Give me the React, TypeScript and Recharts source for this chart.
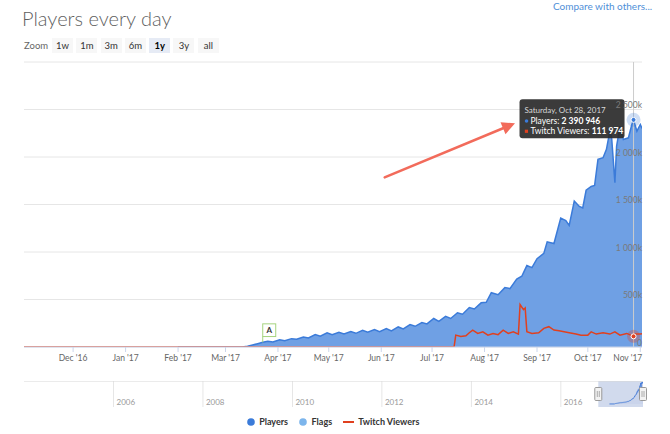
import React from 'react';
import {
  ComposedChart, Area, Line, XAxis, YAxis, CartesianGrid,
  ReferenceLine, ReferenceDot, ReferenceArea, Legend,
} from 'recharts';

const FONT = 'Lato, "Open Sans", "DejaVu Sans", sans-serif';

const chartTitle = 'Players every day';
const compareLink = 'Compare with others...';
const zoomLabel = 'Zoom';
const zoomButtons = ['1w', '1m', '3m', '6m', '1y', '3y', 'all'];
const selectedZoom = '1y';

const rangeStart = '2016-11-02';
const rangeEnd = '2017-11-02';
const navigatorStart = '2004-01-01';

const monthTicks = [
  '2016-12-01', '2017-01-01', '2017-02-01', '2017-03-01', '2017-04-01', '2017-05-01',
  '2017-06-01', '2017-07-01', '2017-08-01', '2017-09-01', '2017-10-01', '2017-11-01',
];
const monthLabels = [
  "Dec '16", "Jan '17", "Feb '17", "Mar '17", "Apr '17", "May '17",
  "Jun '17", "Jul '17", "Aug '17", "Sep '17", "Oct '17", "Nov '17",
];
const yTicks = [0, 500000, 1000000, 1500000, 2000000, 2500000, 3000000];
const yTickLabels = ['0', '500k', '1 000k', '1 500k', '2 000k', '2 500k', ''];
const navigatorYears = ['2006', '2008', '2010', '2012', '2014', '2016'];

const players: [string, number][] = [
  ['2017-02-01', 0], ['2017-03-11', 0], ['2017-03-14', 8000], ['2017-03-17', 21000],
  ['2017-03-20', 35000], ['2017-03-23', 49000], ['2017-03-26', 60000], ['2017-03-29', 53000],
  ['2017-04-02', 77000], ['2017-04-05', 67000], ['2017-04-09', 88000], ['2017-04-12', 81000],
  ['2017-04-16', 106000], ['2017-04-19', 95000], ['2017-04-23', 132000], ['2017-04-26', 113000],
  ['2017-04-30', 150000], ['2017-05-03', 130000], ['2017-05-07', 155000], ['2017-05-10', 137000],
  ['2017-05-14', 162000], ['2017-05-17', 144000], ['2017-05-21', 176000], ['2017-05-24', 155000],
  ['2017-05-28', 183000], ['2017-05-31', 162000], ['2017-06-04', 194000], ['2017-06-07', 169000],
  ['2017-06-11', 211000], ['2017-06-14', 190000], ['2017-06-18', 236000], ['2017-06-21', 218000],
  ['2017-06-25', 258000], ['2017-06-28', 243000], ['2017-07-02', 300000], ['2017-07-05', 270000],
  ['2017-07-09', 322000], ['2017-07-12', 300000], ['2017-07-16', 360000], ['2017-07-19', 345000],
  ['2017-07-23', 415000], ['2017-07-26', 400000], ['2017-07-30', 465000], ['2017-08-02', 470000],
  ['2017-08-05', 571000], ['2017-08-09', 550000], ['2017-08-13', 625000], ['2017-08-16', 615000],
  ['2017-08-20', 714000], ['2017-08-23', 745000], ['2017-08-26', 857000], ['2017-08-29', 835000],
  ['2017-09-01', 930000], ['2017-09-05', 985000], ['2017-09-07', 1107000], ['2017-09-11', 1089000],
  ['2017-09-15', 1357000], ['2017-09-18', 1330000], ['2017-09-20', 1280000], ['2017-09-23', 1536000],
  ['2017-09-26', 1480000], ['2017-09-28', 1464000], ['2017-09-30', 1650000], ['2017-10-03', 1690000],
  ['2017-10-05', 1700000], ['2017-10-07', 1975000], ['2017-10-10', 1992000], ['2017-10-12', 2080000],
  ['2017-10-14', 2272000], ['2017-10-15', 2220000], ['2017-10-17', 1730000], ['2017-10-18', 2115000],
  ['2017-10-20', 2325000], ['2017-10-22', 2185000], ['2017-10-25', 2202000], ['2017-10-27', 2342000],
  ['2017-10-28', 2390946], ['2017-10-30', 2272000], ['2017-11-01', 2342000], ['2017-11-02', 2300000],
];

const twitchViewers: [string, number][] = [
  ['2016-11-02', 0], ['2017-07-14', 0], ['2017-07-15', 125000], ['2017-07-18', 110000],
  ['2017-07-21', 118000], ['2017-07-23', 150000], ['2017-07-25', 178000], ['2017-07-28', 143000],
  ['2017-07-31', 160000], ['2017-08-03', 125000], ['2017-08-06', 143000], ['2017-08-09', 130000],
  ['2017-08-12', 178000], ['2017-08-15', 143000], ['2017-08-18', 160000], ['2017-08-21', 136000],
  ['2017-08-22', 446000], ['2017-08-24', 393000], ['2017-08-25', 411000], ['2017-08-26', 160000],
  ['2017-08-29', 143000], ['2017-09-02', 150000], ['2017-09-05', 196000], ['2017-09-08', 214000],
  ['2017-09-11', 178000], ['2017-09-14', 171000], ['2017-09-17', 160000], ['2017-09-20', 150000],
  ['2017-09-24', 136000], ['2017-09-27', 125000], ['2017-10-01', 125000], ['2017-10-03', 160000],
  ['2017-10-06', 136000], ['2017-10-10', 150000], ['2017-10-14', 136000], ['2017-10-17', 160000],
  ['2017-10-20', 125000], ['2017-10-24', 143000], ['2017-10-27', 120000], ['2017-10-28', 111974],
  ['2017-10-29', 136000], ['2017-11-01', 136000], ['2017-11-02', 140000],
];

const flags: [string, string][] = [['2017-03-23', 'A']];
const tooltipDate = '2017-10-28';
const arrowFrom: [string, number] = ['2017-06-03', 1786000];
const arrowTo: [string, number] = ['2017-08-19', 2355000];

const legendItems = [
  { name: 'Players', color: '#3b7bd9', symbol: 'circle' },
  { name: 'Flags', color: '#7cb5ec', symbol: 'circle' },
  { name: 'Twitch Viewers', color: '#e0401f', symbol: 'line' },
];

// layout
const W = 670;
const MAIN_H = 434;
const M_TOP = 62;
const M_LEFT = 24;
const M_RIGHT = 28;
const X_AXIS_H = 30;
const M_BOTTOM = MAIN_H - 347 - X_AXIS_H;
const NAV_TOP = 381;
const NAV_H = 26;

const PLAYER_BLUE = '#3b7bd9';
const AREA_FILL = '#6fa0e4';
const TWITCH_RED = '#e0401f';

const t = (s: string) => Date.parse(s + 'T00:00:00Z');
const fmt = (n: number) => String(n).replace(/\B(?=(\d{3})+(?!\d))/g, ' ');

const playerData = players.map(([d, v]) => ({ x: t(d), y: v }));
const twitchData = twitchViewers.map(([d, v]) => ({ x: t(d), y: v }));
const monthTickTimes = monthTicks.map(t);
const navTickTimes = navigatorYears.map((y) => t(`${y}-01-01`));
const valueAt = (arr: [string, number][], d: string) => (arr.find((e) => e[0] === d) || [d, 0])[1];

const tooltipPlayers = valueAt(players, tooltipDate);
const tooltipTwitch = valueAt(twitchViewers, tooltipDate);
const tooltipLabel = new Date(t(tooltipDate)).toLocaleDateString('en-US', {
  weekday: 'long', month: 'short', day: 'numeric', year: 'numeric', timeZone: 'UTC',
});

const XTick = (p: any) => {
  const i = monthTickTimes.indexOf(p.payload.value);
  const last = i === monthTickTimes.length - 1;
  return (
    <text x={p.x + (last ? 2 : 0)} y={p.y} dy={6.5} textAnchor={last ? 'end' : 'middle'}
      fontFamily={FONT} fontSize={8.5} fill="#666">{monthLabels[i]}</text>
  );
};

const YTick = (p: any) => {
  const i = yTicks.indexOf(p.payload.value);
  return (
    <text x={W - M_RIGHT} y={p.y - 1.5} textAnchor="end" fontFamily={FONT} fontSize={8.5} fill="#7a7a7a">
      {yTickLabels[i]}
    </text>
  );
};

// navigator year label drawn at each year grid line
const YearLabel = (year: string) => (p: any) => {
  const { x1, y1, y2 } = p;
  return (
    <text x={x1 + 3} y={Math.max(y1, y2) - 2.5} fontFamily={FONT} fontSize={8} fill="#999">{year}</text>
  );
};

const TooltipMarker = (p: any) => {
  const { cx, cy } = p;
  const bx = cx - 114;
  const by = cy - 20.6;
  return (
    <g>
      <circle cx={cx} cy={cy} r={7} fill={PLAYER_BLUE} fillOpacity={0.25} />
      <circle cx={cx} cy={cy} r={2.5} fill={PLAYER_BLUE} stroke="#fff" strokeWidth={1} />
      <rect x={bx} y={by} width={105} height={39} rx={3} fill="#2a2a2a" fillOpacity={0.92} />
      <text x={bx + 5} y={by + 14} fontFamily={FONT} fontSize={8} fill="#d8d8d8">{tooltipLabel}</text>
      <circle cx={bx + 7} cy={by + 21.7} r={1.8} fill={PLAYER_BLUE} />
      <text x={bx + 11} y={by + 24.7} fontFamily={FONT} fontSize={8.5} fill="#fff">
        Players: <tspan fontWeight="bold">{fmt(tooltipPlayers)}</tspan>
      </text>
      <rect x={bx + 5.3} y={by + 30.4} width={3.2} height={3.2} fill={TWITCH_RED} />
      <text x={bx + 11} y={by + 35} fontFamily={FONT} fontSize={8.5} fill="#fff">
        Twitch Viewers: <tspan fontWeight="bold">{fmt(tooltipTwitch)}</tspan>
      </text>
    </g>
  );
};

const TwitchMarker = (p: any) => (
  <g>
    <circle cx={p.cx} cy={p.cy} r={6.5} fill={TWITCH_RED} fillOpacity={0.3} />
    <circle cx={p.cx} cy={p.cy} r={2.5} fill={TWITCH_RED} stroke="#fff" strokeWidth={1} />
  </g>
);

const FlagShape = (label: string) => (p: any) => {
  const { cx, cy } = p;
  return (
    <g>
      <line x1={cx} y1={cy} x2={cx} y2={cy - 6} stroke="#a6d47f" strokeWidth={1} />
      <rect x={cx} y={cy - 18.5} width={13} height={12.7} fill="#fff" stroke="#a6d47f" strokeWidth={1} />
      <text x={cx + 6.5} y={cy - 9} textAnchor="middle" fontFamily={FONT} fontSize={8} fontWeight="bold" fill="#333">{label}</text>
    </g>
  );
};

const ArrowShape = (p: any) => {
  const { x1, y1, x2, y2 } = p;
  const dx = x2 - x1;
  const dy = y2 - y1;
  const len = Math.hypot(dx, dy) || 1;
  const ux = dx / len;
  const uy = dy / len;
  const hl = 13;
  const hw = 6.5;
  const bx = x2 - ux * hl;
  const by = y2 - uy * hl;
  const pts = `${x2},${y2} ${bx - uy * hw},${by + ux * hw} ${bx + uy * hw},${by - ux * hw}`;
  return (
    <g>
      <line x1={x1} y1={y1} x2={bx + ux * 2} y2={by + uy * 2} stroke="#f26b5b" strokeWidth={2.5} strokeLinecap="round" />
      <polygon points={pts} fill="#f26b5b" />
    </g>
  );
};

const HandleShape = (p: any) => {
  const { x1, y1, y2 } = p;
  const my = (y1 + y2) / 2;
  return (
    <g>
      <rect x={x1 - 3.5} y={my - 6.5} width={7} height={13} rx={1} fill="#f2f2f2" stroke="#999" strokeWidth={1} />
      <line x1={x1 - 1} y1={my - 3} x2={x1 - 1} y2={my + 3} stroke="#999" strokeWidth={0.8} />
      <line x1={x1 + 1} y1={my - 3} x2={x1 + 1} y2={my + 3} stroke="#999" strokeWidth={0.8} />
    </g>
  );
};

const LegendContent = () => (
  <div style={{
    display: 'flex', justifyContent: 'center', alignItems: 'center',
    fontFamily: FONT, fontSize: 9, fontWeight: 700, color: '#333', lineHeight: '12px',
  }}>
    {legendItems.map((it) => (
      <div key={it.name} style={{ display: 'flex', alignItems: 'center', margin: '0 5.5px' }}>
        {it.symbol === 'line' ? (
          <svg width={11} height={8}><line x1={0} y1={4} x2={11} y2={4} stroke={it.color} strokeWidth={2} /></svg>
        ) : (
          <svg width={8} height={8}><circle cx={4} cy={4} r={3.8} fill={it.color} /></svg>
        )}
        <span style={{ marginLeft: it.symbol === 'line' ? 4 : 4.5 }}>{it.name}</span>
      </div>
    ))}
  </div>
);

export default function App() {
  return (
    <div style={{ position: 'absolute', left: 0, top: 0, width: W, height: MAIN_H, background: '#fff', overflow: 'hidden' }}>
      <div style={{
        position: 'absolute', left: 22, top: 8, fontFamily: FONT, fontWeight: 300,
        fontSize: 20, lineHeight: '20px', color: '#5f5f5f', whiteSpace: 'nowrap',
      }}>{chartTitle}</div>
      <div style={{
        position: 'absolute', left: 553, top: 0, fontFamily: FONT, fontSize: 10,
        lineHeight: '12px', color: '#4f8fd8', whiteSpace: 'nowrap',
      }}>{compareLink}</div>
      <div style={{
        position: 'absolute', left: 24, top: 38, height: 15, display: 'flex', alignItems: 'center',
        fontFamily: FONT, fontSize: 9.5,
      }}>
        <span style={{ color: '#666', width: 28 }}>{zoomLabel}</span>
        {zoomButtons.map((b) => (
          <span key={b} style={{
            width: 21, height: 15, lineHeight: '15px', textAlign: 'center', marginRight: 3.3,
            background: b === selectedZoom ? '#e6ebf5' : '#f7f7f7',
            color: b === selectedZoom ? '#000' : '#333', fontWeight: b === selectedZoom ? 700 : 400,
          }}>{b}</span>
        ))}
      </div>

      <div style={{ position: 'absolute', left: 0, top: 0 }}>
        <ComposedChart width={W} height={MAIN_H}
          margin={{ top: M_TOP, right: M_RIGHT, left: M_LEFT, bottom: M_BOTTOM }}>
          <CartesianGrid horizontal vertical={false} stroke="#e6e6e6" />
          <XAxis type="number" dataKey="x" domain={[t(rangeStart), t(rangeEnd)]} allowDataOverflow
            ticks={monthTickTimes} tick={<XTick />} tickSize={5} height={X_AXIS_H}
            tickLine={{ stroke: '#ccd6eb' }} axisLine={{ stroke: '#ccd6eb' }} interval={0} />
          <YAxis type="number" orientation="right" mirror domain={[0, 3000000]} allowDataOverflow
            ticks={yTicks} tick={<YTick />} axisLine={false} tickLine={false} width={50} interval={0} />
          <ReferenceLine x={t(tooltipDate)} stroke="#cccccc" strokeWidth={1} />
          <Area data={playerData} dataKey="y" name="Players" type="linear" stroke={PLAYER_BLUE}
            strokeWidth={1.5} fill={AREA_FILL} fillOpacity={1} dot={false} activeDot={false}
            isAnimationActive={false} />
          <Line data={twitchData} dataKey="y" name="Twitch Viewers" type="linear" stroke={TWITCH_RED}
            strokeWidth={1.5} dot={false} activeDot={false} isAnimationActive={false} />
          {flags.map(([d, label]) => (
            <ReferenceDot key={d} x={t(d)} y={valueAt(players, d)} r={0} shape={FlagShape(label)} />
          ))}
          <ReferenceLine segment={[{ x: t(arrowFrom[0]), y: arrowFrom[1] }, { x: t(arrowTo[0]), y: arrowTo[1] }]}
            shape={ArrowShape} />
          <ReferenceDot x={t(tooltipDate)} y={tooltipTwitch} r={0} shape={TwitchMarker} />
          <ReferenceDot x={t(tooltipDate)} y={tooltipPlayers} r={0} shape={TooltipMarker} />
          <Legend layout="horizontal" verticalAlign="middle" align="center" width={618}
            wrapperStyle={{ top: 416, left: M_LEFT, width: 618, height: 12 }} content={<LegendContent />} />
        </ComposedChart>
      </div>

      <div style={{ position: 'absolute', left: 0, top: NAV_TOP }}>
        <ComposedChart width={W} height={NAV_H} margin={{ top: 0, right: 27, left: 24, bottom: 0 }}>
          <XAxis type="number" dataKey="x" domain={[t(navigatorStart), t(rangeEnd)]} allowDataOverflow hide />
          <YAxis type="number" hide domain={[-330000, 2500000]} allowDataOverflow />
          {navigatorYears.map((y, i) => (
            <ReferenceLine key={y} x={navTickTimes[i]} stroke="#e6e6e6" />
          ))}
          {navigatorYears.map((y, i) => (
            <ReferenceLine key={'l' + y} x={navTickTimes[i]} shape={YearLabel(y)} />
          ))}
          <ReferenceArea x1={t(rangeStart)} x2={t(rangeEnd)} fill="#6685c2" fillOpacity={0.3} stroke="none" />
          <ReferenceLine y={2500000} stroke="#d8d8d8" />
          <Area data={playerData} dataKey="y" type="linear" stroke="#4a7fd9" strokeWidth={1}
            fill="#4a7fd9" fillOpacity={0.05} dot={false} activeDot={false} isAnimationActive={false} />
          <ReferenceLine x={t(rangeStart)} stroke="none" shape={HandleShape} />
          <ReferenceLine x={t(rangeEnd)} stroke="none" shape={HandleShape} />
        </ComposedChart>
      </div>
    </div>
  );
}
